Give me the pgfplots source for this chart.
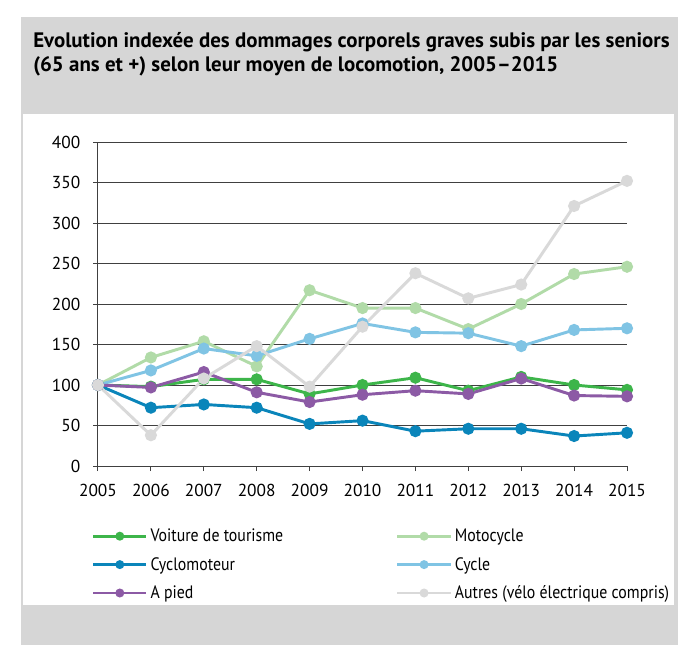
\documentclass[border=0pt]{standalone}
\usepackage{fontspec}
\setmainfont{PT Sans}
\newfontfamily\legfont{PT Sans}[FakeStretch=0.88]
\usepackage{pgfplots}
\pgfplotsset{compat=1.18}
\definecolor{bg}{HTML}{D6D6D6}
\definecolor{cvoit}{HTML}{3DB54A}
\definecolor{cmoto}{HTML}{B1DBA8}
\definecolor{ccyclo}{HTML}{0A85BA}
\definecolor{ccycle}{HTML}{80C4E4}
\definecolor{cpied}{HTML}{8C5AA5}
\definecolor{cautres}{HTML}{D9D9D9}
\definecolor{gridc}{HTML}{404040}
\begin{document}
\begin{tikzpicture}
\begin{scope}[x=0.75pt,y=-0.75pt]
\fill[white] (0,0) rectangle (699,661);
\fill[bg] (21,17) rectangle (678,645);
\fill[white] (23,114) rectangle (674,605);
\node[anchor=base west, inner sep=0pt, font=\bfseries\fontsize{15.7}{18}\selectfont] at (33,47)
  {Evolution indexée des dommages corporels graves subis par les seniors};
\node[anchor=base west, inner sep=0pt, font=\bfseries\fontsize{15.7}{18}\selectfont] at (33,71)
  {(65 ans et +) selon leur moyen de locomotion, 2005--2015};
\end{scope}
\begin{axis}[
  at={(73.5pt,-349.5pt)}, anchor=south west,
  scale only axis, width=396.75pt, height=243pt,
  xmin=2005, xmax=2015, ymin=0, ymax=400,
  xtick={2005,2006,...,2015}, ytick={0,50,...,400},
  axis x line*=bottom, axis y line*=left,
  axis line style={gridc, line width=0.75pt, -},
  tick style={gridc, line width=0.75pt},
  tick align=outside, major tick length=3.75pt,
  ymajorgrids, grid style={gridc, line width=0.75pt},
  tick label style={font=\fontsize{13}{15}\selectfont, black},
  xticklabel style={yshift=-6pt},
  yticklabel style={xshift=-6pt},
  /pgf/number format/assume math mode=true,
  x tick label style={/pgf/number format/1000 sep={}},
  every axis plot/.append style={line width=2.2pt, mark=*, mark size=3.4pt},
  legend columns=2,
  legend cell align=left,
  legend style={at={(-0.02,-0.172)}, anchor=north west, draw=none, fill=none,
    font=\legfont\fontsize{13.5}{14}\selectfont, row sep=4pt, nodes={inner ysep=3pt}},
  legend image code/.code={\draw[#1, mark size=2.2pt, mark repeat=2, mark phase=2] plot coordinates {(0pt,0pt) (20pt,0pt) (40pt,0pt)};},
]
\addplot[cvoit, mark options={fill=cvoit, draw=cvoit}] coordinates {(2005,100) (2006,98) (2007,107) (2008,107) (2009,89) (2010,100) (2011,109) (2012,93) (2013,110) (2014,100) (2015,94)};
\addlegendentry{\makebox[182pt][l]{\strut Voiture de tourisme}}
\addplot[cmoto, mark options={fill=cmoto, draw=cmoto}] coordinates {(2005,100) (2006,134) (2007,154) (2008,123) (2009,217) (2010,195) (2011,195) (2012,169) (2013,200) (2014,237) (2015,246)};
\addlegendentry{\strut Motocycle}
\addplot[ccyclo, mark options={fill=ccyclo, draw=ccyclo}] coordinates {(2005,100) (2006,72) (2007,76) (2008,72) (2009,52) (2010,56) (2011,43) (2012,46) (2013,46) (2014,37) (2015,41)};
\addlegendentry{\makebox[182pt][l]{\strut Cyclomoteur}}
\addplot[ccycle, mark options={fill=ccycle, draw=ccycle}] coordinates {(2005,100) (2006,118) (2007,145) (2008,136) (2009,157) (2010,176) (2011,165) (2012,164) (2013,148) (2014,168) (2015,170)};
\addlegendentry{\strut Cycle}
\addplot[cpied, mark options={fill=cpied, draw=cpied}] coordinates {(2005,100) (2006,97) (2007,116) (2008,91) (2009,79) (2010,88) (2011,93) (2012,89) (2013,108) (2014,87) (2015,86)};
\addlegendentry{\makebox[182pt][l]{\strut A pied}}
\addplot[cautres, mark options={fill=cautres, draw=cautres}] coordinates {(2005,100) (2006,38) (2007,108) (2008,148) (2009,98) (2010,172) (2011,238) (2012,207) (2013,224) (2014,321) (2015,352)};
\addlegendentry{\strut Autres (vélo électrique compris)}
\end{axis}
\end{tikzpicture}
\end{document}
